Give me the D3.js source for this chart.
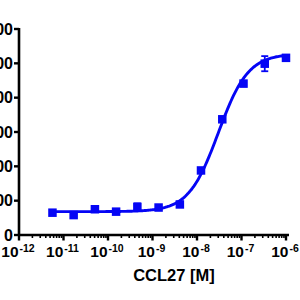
<!DOCTYPE html>
<html>
<head>
<meta charset="utf-8">
<script src="https://cdn.jsdelivr.net/npm/d3@7/dist/d3.min.js"></script>
<style>
  html, body { margin: 0; padding: 0; background: #fff; }
  svg { display: block; font-family: "Liberation Sans", Arial, sans-serif; }
</style>
</head>
<body>
<svg id="chart" width="300" height="300"></svg>
<script>
// Concentrations (M), 3-fold dilutions from 1 uM
const concentrations = [1e-6, 3.33e-7, 1.11e-7, 3.7e-8, 1.23e-8, 4.12e-9, 1.37e-9, 4.57e-10, 1.52e-10, 5.08e-11, 1.69e-11, 5.65e-12];
const responses = [516, 499, 441, 337, 188, 89, 80, 82, 68, 75, 58, 65];
const errors = [6, 22, 8, 6, 6, 4, 4, 10, 5, 6, 4, 5];

// 4PL fit parameters
const fitBottom = 68;
const fitTop = 528;
const fitLogEC50 = -7.52;
const fitHill = 1.3;

const yTicks = [0, 100, 200, 300, 400, 500, 600];
const xTickExponents = [-12, -11, -10, -9, -8, -7, -6];
const xTitle = "CCL27 [M]";

const blue = "#0505f5";
const svg = d3.select("#chart");

const x = d3.scaleLog().domain([1e-12, 1e-6]).range([19, 286]);
const y = d3.scaleLinear().domain([0, 600]).range([235, 29]);

// Y axis (labels run off the left edge, as in the source image)
const yAxis = svg.append("g").attr("transform", "translate(19,0)");
yAxis.append("line")
  .attr("x1", 0).attr("x2", 0)
  .attr("y1", y(600) - 1).attr("y2", y(0) + 1)
  .attr("stroke", "#000").attr("stroke-width", 2.6);
yAxis.selectAll(".ytick")
  .data(yTicks)
  .enter().append("line")
  .attr("x1", -5).attr("x2", 0)
  .attr("y1", d => y(d)).attr("y2", d => y(d))
  .attr("stroke", "#000").attr("stroke-width", 2.4);
yAxis.selectAll(".ylabel")
  .data(yTicks)
  .enter().append("text")
  .attr("x", -6)
  .attr("y", d => y(d))
  .attr("dy", "0.36em")
  .attr("text-anchor", "end")
  .attr("font-size", 16)
  .attr("font-weight", "bold")
  .text(d => d);

// X axis
const xAxis = svg.append("g").attr("transform", `translate(0,${y(0)})`);
xAxis.append("line")
  .attr("x1", x(1e-12) - 1).attr("x2", x(1e-6) + 3)
  .attr("y1", 0).attr("y2", 0)
  .attr("stroke", "#000").attr("stroke-width", 2.6);

const minorTicks = [];
xTickExponents.slice(0, -1).forEach(e => {
  for (let m = 2; m <= 9; m++) minorTicks.push(m * Math.pow(10, e));
});
xAxis.selectAll(".xminor")
  .data(minorTicks)
  .enter().append("line")
  .attr("x1", d => x(d)).attr("x2", d => x(d))
  .attr("y1", 0).attr("y2", 3)
  .attr("stroke", "#000").attr("stroke-width", 1.6);
xAxis.selectAll(".xmajor")
  .data(xTickExponents)
  .enter().append("line")
  .attr("x1", d => x(Math.pow(10, d))).attr("x2", d => x(Math.pow(10, d)))
  .attr("y1", 0).attr("y2", 5.5)
  .attr("stroke", "#000").attr("stroke-width", 2.4);

const xLabels = xAxis.selectAll(".xlabel")
  .data(xTickExponents)
  .enter().append("text")
  .attr("x", d => x(Math.pow(10, d)) - 1)
  .attr("y", 22)
  .attr("text-anchor", "middle")
  .attr("font-size", 15.5)
  .attr("font-weight", "bold");
xLabels.append("tspan").text("10");
xLabels.append("tspan")
  .attr("dy", -5)
  .attr("dx", 1)
  .attr("font-size", 10.5)
  .text(d => "-" + Math.abs(d));

svg.append("text")
  .attr("x", 174)
  .attr("y", 281)
  .attr("text-anchor", "middle")
  .attr("font-size", 16.5)
  .attr("font-weight", "bold")
  .text(xTitle);

// Fitted curve
const logMin = Math.log10(concentrations[concentrations.length - 1]);
const logMax = Math.log10(concentrations[0]);
const curve = d3.range(0, 201).map(i => {
  const lx = logMin + (logMax - logMin) * i / 200;
  const v = fitBottom + (fitTop - fitBottom) / (1 + Math.pow(10, (fitLogEC50 - lx) * fitHill));
  return [Math.pow(10, lx), v];
});
svg.append("path")
  .datum(curve)
  .attr("fill", "none")
  .attr("stroke", blue)
  .attr("stroke-width", 2.9)
  .attr("d", d3.line().x(d => x(d[0])).y(d => y(d[1])));

// Error bars
const points = concentrations.map((c, i) => ({ c, v: responses[i], e: errors[i] }));
const eb = svg.append("g").attr("stroke", blue).attr("stroke-width", 1.8);
eb.selectAll(".ebv")
  .data(points)
  .enter().append("line")
  .attr("x1", d => x(d.c)).attr("x2", d => x(d.c))
  .attr("y1", d => y(d.v + d.e)).attr("y2", d => y(d.v - d.e));
eb.selectAll(".ebt")
  .data(points.flatMap(d => [d.v + d.e, d.v - d.e].map(v => ({ c: d.c, v }))))
  .enter().append("line")
  .attr("x1", d => x(d.c) - 3.5).attr("x2", d => x(d.c) + 3.5)
  .attr("y1", d => y(d.v)).attr("y2", d => y(d.v));

// Markers
const size = 8.5;
svg.selectAll(".pt")
  .data(points)
  .enter().append("rect")
  .attr("x", d => x(d.c) - size / 2)
  .attr("y", d => y(d.v) - size / 2)
  .attr("width", size)
  .attr("height", size)
  .attr("fill", blue);
</script>
</body>
</html>
